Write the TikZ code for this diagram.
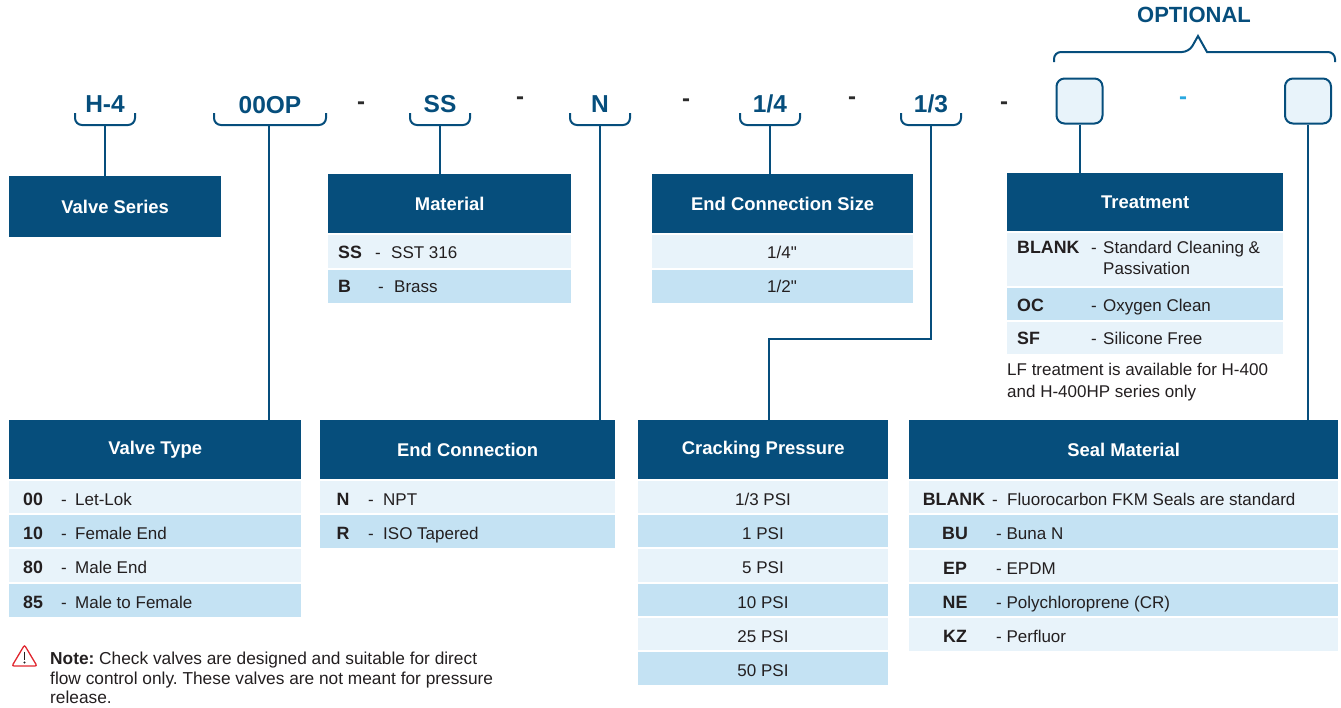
\documentclass[tikz,border=0pt]{standalone}
\usepackage{fontspec}
\setmainfont{Liberation Sans}
\newfontfamily\rawsans{Liberation Sans}
\frenchspacing
\definecolor{navy}{HTML}{064E7C}
\definecolor{rowl}{HTML}{E8F3FA}
\definecolor{rowd}{HTML}{C4E2F3}
\definecolor{ink}{HTML}{231F20}
\definecolor{sepc}{HTML}{2B2B2B}
\definecolor{cyanb}{HTML}{2AA8E0}
\definecolor{warn}{HTML}{E0262E}
\begin{document}
\frenchspacing
\begin{tikzpicture}[x=1pt,y=-1pt,
  hdr/.style={fill=navy,text=white,font=\fontsize{18.4}{20}\selectfont\bfseries,inner sep=0pt,anchor=north west},
  code/.style={text=navy,font=\fontsize{24.5}{26}\selectfont\bfseries,inner sep=0pt},
  sepd/.style={text=sepc,font=\fontsize{24}{26}\selectfont\bfseries,inner sep=0pt},
  brace/.style={draw=navy,line width=2pt,rounded corners=7pt},
  conn/.style={draw=navy,line width=2pt},
  bt/.style={text=ink,font=\fontsize{17}{20}\selectfont,inner sep=0pt,anchor=base west},
  bc/.style={text=ink,font=\fontsize{17}{20}\selectfont,inner sep=0pt,anchor=base},
  kb/.style={text=ink,font=\fontsize{17.8}{20}\selectfont\bfseries,inner sep=0pt,anchor=base west},
  kbc/.style={kb,anchor=base},
  nt/.style={bt,font=\fontsize{17.3}{20}\selectfont\frenchspacing},
  optbox/.style={draw=navy,line width=2pt,fill=rowl,rounded corners=8pt,minimum width=46pt,minimum height=45pt,inner sep=0pt},
  sepline/.style={draw=white,line width=1.2pt}
]
\useasboundingbox (0,0) rectangle (1341,707);

% ---------- headers ----------
\node[hdr,minimum width=212pt,minimum height=61pt] (vs)  at (9,176)   {Valve Series};
\node[hdr,minimum width=243pt,minimum height=60pt] (mat) at (328,174) {Material};
\node[hdr,minimum width=261pt,minimum height=60pt] (ecs) at (652,174) {End Connection Size};
\node[hdr,minimum width=276pt,minimum height=59pt] (trt) at (1007,173) {Treatment};
\node[hdr,minimum width=292pt,minimum height=60pt] (vt)  at (9,420)   {Valve Type};
\node[hdr,minimum width=295pt,minimum height=60pt] (ec)  at (320,420) {End Connection};
\node[hdr,minimum width=250pt,minimum height=60pt] (cp)  at (638,420) {Cracking Pressure};
\node[hdr,minimum width=429pt,minimum height=60pt] (sm)  at (909,420) {Seal Material};

% ---------- table rows ----------
% Material
\fill[rowl] (328,234) rectangle (571,269);
\fill[rowd] (328,269) rectangle (571,303);
\foreach \t in {234,269} \draw[sepline] (328,\t) -- (571,\t);
% End connection size
\fill[rowl] (652,234) rectangle (913,269);
\fill[rowd] (652,269) rectangle (913,303);
\foreach \t in {234,269} \draw[sepline] (652,\t) -- (913,\t);
% Treatment
\fill[rowl] (1007,232) rectangle (1283,287);
\fill[rowd] (1007,287) rectangle (1283,321);
\fill[rowl] (1007,321) rectangle (1283,354);
\foreach \t in {232,287,321} \draw[sepline] (1007,\t) -- (1283,\t);
% Valve type
\fill[rowl] (9,480) rectangle (301,514);
\fill[rowd] (9,514) rectangle (301,548);
\fill[rowl] (9,548) rectangle (301,583);
\fill[rowd] (9,583) rectangle (301,617);
\foreach \t in {480,514,548,583} \draw[sepline] (9,\t) -- (301,\t);
% End connection
\fill[rowl] (320,480) rectangle (615,514);
\fill[rowd] (320,514) rectangle (615,548);
\foreach \t in {480,514} \draw[sepline] (320,\t) -- (615,\t);
% Cracking pressure
\fill[rowl] (638,480) rectangle (888,514);
\fill[rowd] (638,514) rectangle (888,548);
\fill[rowl] (638,548) rectangle (888,583);
\fill[rowd] (638,583) rectangle (888,617);
\fill[rowl] (638,617) rectangle (888,651);
\fill[rowd] (638,651) rectangle (888,685);
\foreach \t in {480,514,548,583,617,651} \draw[sepline] (638,\t) -- (888,\t);
% Seal material
\fill[rowl] (909,480) rectangle (1338,514);
\fill[rowd] (909,514) rectangle (1338,549);
\fill[rowl] (909,549) rectangle (1338,583);
\fill[rowd] (909,583) rectangle (1338,617);
\fill[rowl] (909,617) rectangle (1338,651);
\foreach \t in {480,514,549,583,617} \draw[sepline] (909,\t) -- (1338,\t);

% ---------- row texts ----------
% Material
\node[kb] (m1k) at (338,258) {SS};
\node[bt] (m1d) at (375,258) {-};
\node[bt] (m1t) at (391,258) {SST 316};
\node[kb] (m2k) at (338,292) {B};
\node[bt] (m2d) at (378,292) {-};
\node[bt] (m2t) at (394,292) {Brass};
% End connection size
\node[bc] (s1) at (782,258) {1/4{\rawsans"}};
\node[bc] (s2) at (782,292) {1/2{\rawsans"}};
% Treatment
\node[kb] (t1k) at (1017,253) {BLANK};
\node[bt] (t1d) at (1091,253) {-};
\node[bt] (t1t) at (1103,253) {Standard Cleaning \&};
\node[bt] (t1u) at (1103,274) {Passivation};
\node[kb] (t2k) at (1017,311) {OC};
\node[bt] (t2d) at (1091,311) {-};
\node[bt] (t2t) at (1103,311) {Oxygen Clean};
\node[kb] (t3k) at (1017,344) {SF};
\node[bt] (t3d) at (1091,344) {-};
\node[bt] (t3t) at (1103,344) {Silicone Free};
\node[bt] (lf1) at (1007,375) {LF treatment is available for H-400};
\node[bt] (lf2) at (1007,397) {and H-400HP series only};
% Valve type
\node[kb] (v1k) at (23,505) {00};
\node[bt] (v1d) at (61,505) {-};
\node[bt] (v1t) at (75,505) {Let-Lok};
\node[kb] (v2k) at (23,539) {10};
\node[bt] (v2d) at (61,539) {-};
\node[bt] (v2t) at (75,539) {Female End};
\node[kb] (v3k) at (23,573) {80};
\node[bt] (v3d) at (61,573) {-};
\node[bt] (v3t) at (75,573) {Male End};
\node[kb] (v4k) at (23,608) {85};
\node[bt] (v4d) at (61,608) {-};
\node[bt] (v4t) at (75,608) {Male to Female};
% End connection
\node[kbc] (e1k) at (343,505) {N};
\node[bt]  (e1d) at (368,505) {-};
\node[bt]  (e1t) at (383,505) {NPT};
\node[kbc] (e2k) at (343,539) {R};
\node[bt]  (e2d) at (368,539) {-};
\node[bt]  (e2t) at (383,539) {ISO Tapered};
% Cracking pressure
\node[bc] (p1) at (763,505) {1/3 PSI};
\node[bc] (p2) at (763,539) {1 PSI};
\node[bc] (p3) at (763,573) {5 PSI};
\node[bc] (p4) at (763,608) {10 PSI};
\node[bc] (p5) at (763,642) {25 PSI};
\node[bc] (p6) at (763,676) {50 PSI};
% Seal material
\node[kbc] (q1k) at (954,505) {BLANK};
\node[bt]  (q1d) at (992,505) {-};
\node[bt]  (q1t) at (1007,505) {Fluorocarbon FKM Seals are standard};
\node[kbc] (q2k) at (955,539) {BU};
\node[bt]  (q2t) at (996,539) {- Buna N};
\node[kbc] (q3k) at (955,574) {EP};
\node[bt]  (q3t) at (996,574) {- EPDM};
\node[kbc] (q4k) at (955,608) {NE};
\node[bt]  (q4t) at (996,608) {- Polychloroprene (CR)};
\node[kbc] (q5k) at (955,642) {KZ};
\node[bt]  (q5t) at (996,642) {- Perfluor};

% ---------- top code row ----------
\node[code] (c1) at (105,104) {H-4};
\node[code] (c2) at (270,105) {00OP};
\node[code] (c3) at (440,104) {SS};
\node[code] (c4) at (600,104) {N};
\node[code] (c5) at (770,104) {1/4};
\node[code] (c6) at (931,104) {1/3};
\node[sepd] (d1) at (361,106) {-};
\node[sepd] (d2) at (520,101) {-};
\node[sepd] (d3) at (686,103) {-};
\node[sepd] (d4) at (852,101) {-};
\node[sepd] (d5) at (1004,106) {-};
\node[sepd,text=cyanb] (d6) at (1183,101) {-};
\node[optbox] (o1) at (1079.5,101) {};
\node[optbox] (o2) at (1308,101) {};
\node[code,font=\fontsize{22}{24}\selectfont\bfseries] (opt) at (1194,15) {OPTIONAL};

% braces
\draw[brace] (75,113) -- (75,125) -- (135,125) -- (135,113);
\draw[brace] (214,113) -- (214,125) -- (326,125) -- (326,113);
\draw[brace] (410,113) -- (410,125) -- (470,125) -- (470,113);
\draw[brace] (570,113) -- (570,125) -- (630,125) -- (630,113);
\draw[brace] (740,113) -- (740,125) -- (800,125) -- (800,113);
\draw[brace] (901,113) -- (901,125) -- (961,125) -- (961,113);
\draw[navy,line width=2pt] (1054,62) [rounded corners=7pt] -- (1054,52) -- (1189,52) [sharp corners] -- (1198,36) -- (1207,52) [rounded corners=7pt] -- (1335,52) -- (1335,62);

% ---------- connectors ----------
\coordinate (b1) at (105,125);
\coordinate (b2) at (269,125);
\coordinate (b3) at (440,125);
\coordinate (b4) at (600,125);
\coordinate (b5) at (770,125);
\coordinate (b6) at (931,125);
\coordinate (k6) at (931,339);
\coordinate (k7) at (769,339);
\draw[conn] (b1) -- (b1 |- vs.north);
\draw[conn] (b2) -- (b2 |- vt.north);
\draw[conn] (b3) -- (b3 |- mat.north);
\draw[conn] (b4) -- (b4 |- ec.north);
\draw[conn] (b5) -- (b5 |- ecs.north);
\draw[conn] (b6) -- (k6) -- (k7) -- (k7 |- cp.north);
\draw[conn] (o1.south) -- (o1.south |- trt.north);
\draw[conn] (o2.south) -- (o2.south |- sm.north);

% ---------- note ----------
\draw[warn,line width=1.3pt,rounded corners=2pt] (24.5,645) -- (37,666) -- (12,666) -- cycle;
\draw[ink,line width=1.8pt] (24.5,651.5) -- (24.5,659.5);
\fill[ink] (24.5,662.5) circle (1.1pt);
\node[nt] (n1) at (50,664) {\textbf{Note:} Check valves are designed and suitable for direct};
\node[nt] (n2) at (50,684) {flow control only. These valves are not meant for pressure};
\node[nt] (n3) at (50,703) {release.};
\end{tikzpicture}
\end{document}
